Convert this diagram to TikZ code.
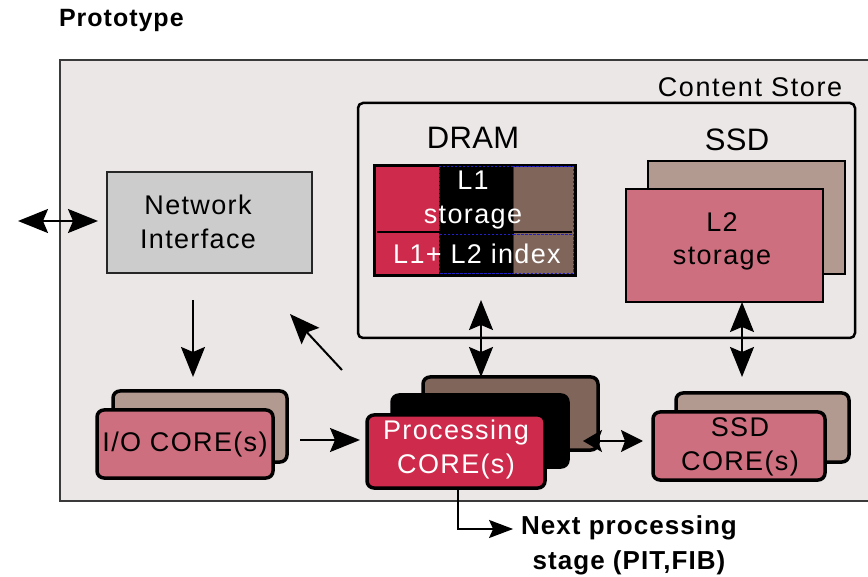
\documentclass[tikz,border=0pt]{standalone}
\usepackage{fontspec}
\setmainfont{Liberation Sans}
\newfontfamily\labfont[LetterSpace=5]{Liberation Sans}
\newfontfamily\wideFont[LetterSpace=6]{Liberation Sans}
\newfontfamily\headfont[LetterSpace=1]{Liberation Sans}
\newfontfamily\boldlab[LetterSpace=4]{Liberation Sans Bold}
\usetikzlibrary{arrows.meta}

\definecolor{panelbg}{HTML}{EBE7E6}
\definecolor{framegray}{HTML}{3A3A3A}
\definecolor{coral}{HTML}{CE2A4B}
\definecolor{umber}{HTML}{80655B}
\definecolor{taupe}{HTML}{B39A91}
\definecolor{rose}{HTML}{CE6F80}
\definecolor{nigray}{HTML}{CCCCCC}
\definecolor{dashblue}{HTML}{2020C8}

\begin{document}
\begin{tikzpicture}[x=1pt,y=-1pt,
  every node/.style={inner sep=0pt, outer sep=0pt},
  sz/.style 2 args={minimum width=#1, minimum height=#2},
  core/.style={draw=black, line width=3.5pt, rounded corners=7pt},
  flat/.style={draw=black, line width=2.5pt},
  lbl/.style={font=\labfont\fontsize{27}{34}\selectfont, align=center},
  dbl/.style={line width=2pt, {Stealth[length=30pt,width=24pt,inset=5pt]}-{Stealth[length=30pt,width=24pt,inset=5pt]}},
  shortdbl/.style={line width=2pt, {Stealth[length=19pt,width=22pt,inset=4pt]}-{Stealth[length=22pt,width=22pt,inset=4pt]}},
  one/.style={line width=2pt, -{Stealth[length=30pt,width=24pt,inset=5pt]}},
  small/.style={line width=1.6pt, -{Stealth[length=24pt,width=18pt,inset=4pt]}},
  cell/.style={draw=dashblue, line width=0.8pt, dash pattern=on 2.5pt off 1.5pt}
]
\useasboundingbox (0,0) rectangle (868,577);
\fill[white] (0,0) rectangle (868,577);

% title
\node[font=\boldlab\fontsize{25}{28}\selectfont, anchor=west] (title) at (59,20) {Prototype};

% content store frame
\node[sz={820pt}{441pt}, fill=panelbg, draw=framegray, line width=1.3pt] (cs) at (470,280.5) {};
\node[font=\wideFont\fontsize{27}{30}\selectfont] (cslabel) at (750,87) {Content Store};

% memory hierarchy box
\node[sz={497pt}{235pt}, draw=black, line width=2.5pt, rounded corners=5pt] (mem) at (606.5,220.5) {};
\node[font=\headfont\fontsize{31}{34}\selectfont] (dramlabel) at (473,138) {DRAM};
\node[font=\headfont\fontsize{31}{34}\selectfont] (ssdlabel) at (737,140) {SSD};

% DRAM block: L1 storage and the L1+L2 index
\node[sz={204pt}{113pt}, fill=black] (dram) at (475,220.5) {};
\fill[coral] (376,167) rectangle (439,274);
\fill[umber] (514,167) rectangle (574,274);
\draw[cell] (439,166.5) rectangle (513.5,231);
\draw[cell] (513.5,166.5) rectangle (573.5,231);
\draw[cell] (439,234) rectangle (513.5,273);
\draw[cell] (513.5,234) rectangle (573.5,273);
\draw[black, line width=2pt] (377,232.5) -- (572,232.5);
\node[lbl, text=white] (l1) at (473,200) {L1\\storage};
\node[lbl, text=white] (idx) at (477,254) {L1+ L2 index};

% SSD: L2 storage
\node[flat, sz={197pt}{113pt}, fill=taupe] (l2back) at (746.5,217.5) {};
\node[flat, sz={197pt}{113pt}, fill=rose] (l2) at (724.5,245.5) {};
\node[lbl, font=\labfont\fontsize{27}{33}\selectfont] (l2text) at (722,241) {L2\\storage};

% network interface
\node[sz={205pt}{101pt}, fill=nigray, draw=black!85, line width=1.5pt] (ni) at (209.5,222.5) {};
\node[lbl] (nitext) at (198,222) {Network\\Interface};

% I/O cores
\node[core, sz={174pt}{71pt}, fill=taupe] (iob) at (200,426.5) {};
\node[core, sz={176pt}{68pt}, fill=rose] (iof) at (185,444) {};
\node[lbl] (iotext) at (185,445) {I/O CORE(s)};

% processing cores
\node[core, sz={175pt}{73pt}, fill=umber] (pb) at (510.5,413.5) {};
\node[core, sz={176pt}{72pt}, fill=black] (pm) at (480,431) {};
\node[core, sz={178pt}{73pt}, fill=coral] (pf) at (456,451.5) {};
\node[lbl, text=white] (ptext) at (456,450) {Processing\\CORE(s)};

% SSD cores
\node[core, sz={173pt}{69pt}, fill=taupe] (sb) at (762.5,427.5) {};
\node[core, sz={172pt}{68pt}, fill=rose] (sf) at (739,446) {};
\node[lbl] (stext) at (740,447) {SSD\\CORE(s)};

% next stage
\node[font=\boldlab\fontsize{26}{35}\selectfont, align=center] (next) at (629,545) {Next processing\\stage (PIT,FIB)};

% connectors
\coordinate (ext) at (18,221);
\draw[dbl, shorten >=9pt] (ext) -- (ext -| ni.west);
\draw[one, shorten <=27pt, shorten >=14pt] ([xshift=-16.5pt]ni.south) -- ([xshift=-16.5pt]ni.south |- iob.north);
\coordinate (diagfrom) at (342,370);
\coordinate (diagto) at (290,314);
\draw[one] (diagfrom) -- (diagto);
\draw[one, shorten <=27pt, shorten >=7pt] ([yshift=4pt]iof.east) -- ([yshift=4pt]iof.east -| pf.west);
\draw[dbl, shorten <=23pt] ([xshift=6pt]dram.south) -- ([xshift=6pt]dram.south |- pb.north);
\draw[dbl, shorten >=16pt] ([xshift=17.5pt]l2.south) -- ([xshift=17.5pt]l2.south |- sb.north);
\draw[shortdbl, shorten <=15pt, shorten >=10pt] ([yshift=-10pt]pm.east) -- ([yshift=-10pt]pm.east -| sf.west);
\draw[small, shorten >=8pt] ([xshift=2pt]pf.south) |- ([yshift=16pt]next.west);
\end{tikzpicture}
\end{document}
